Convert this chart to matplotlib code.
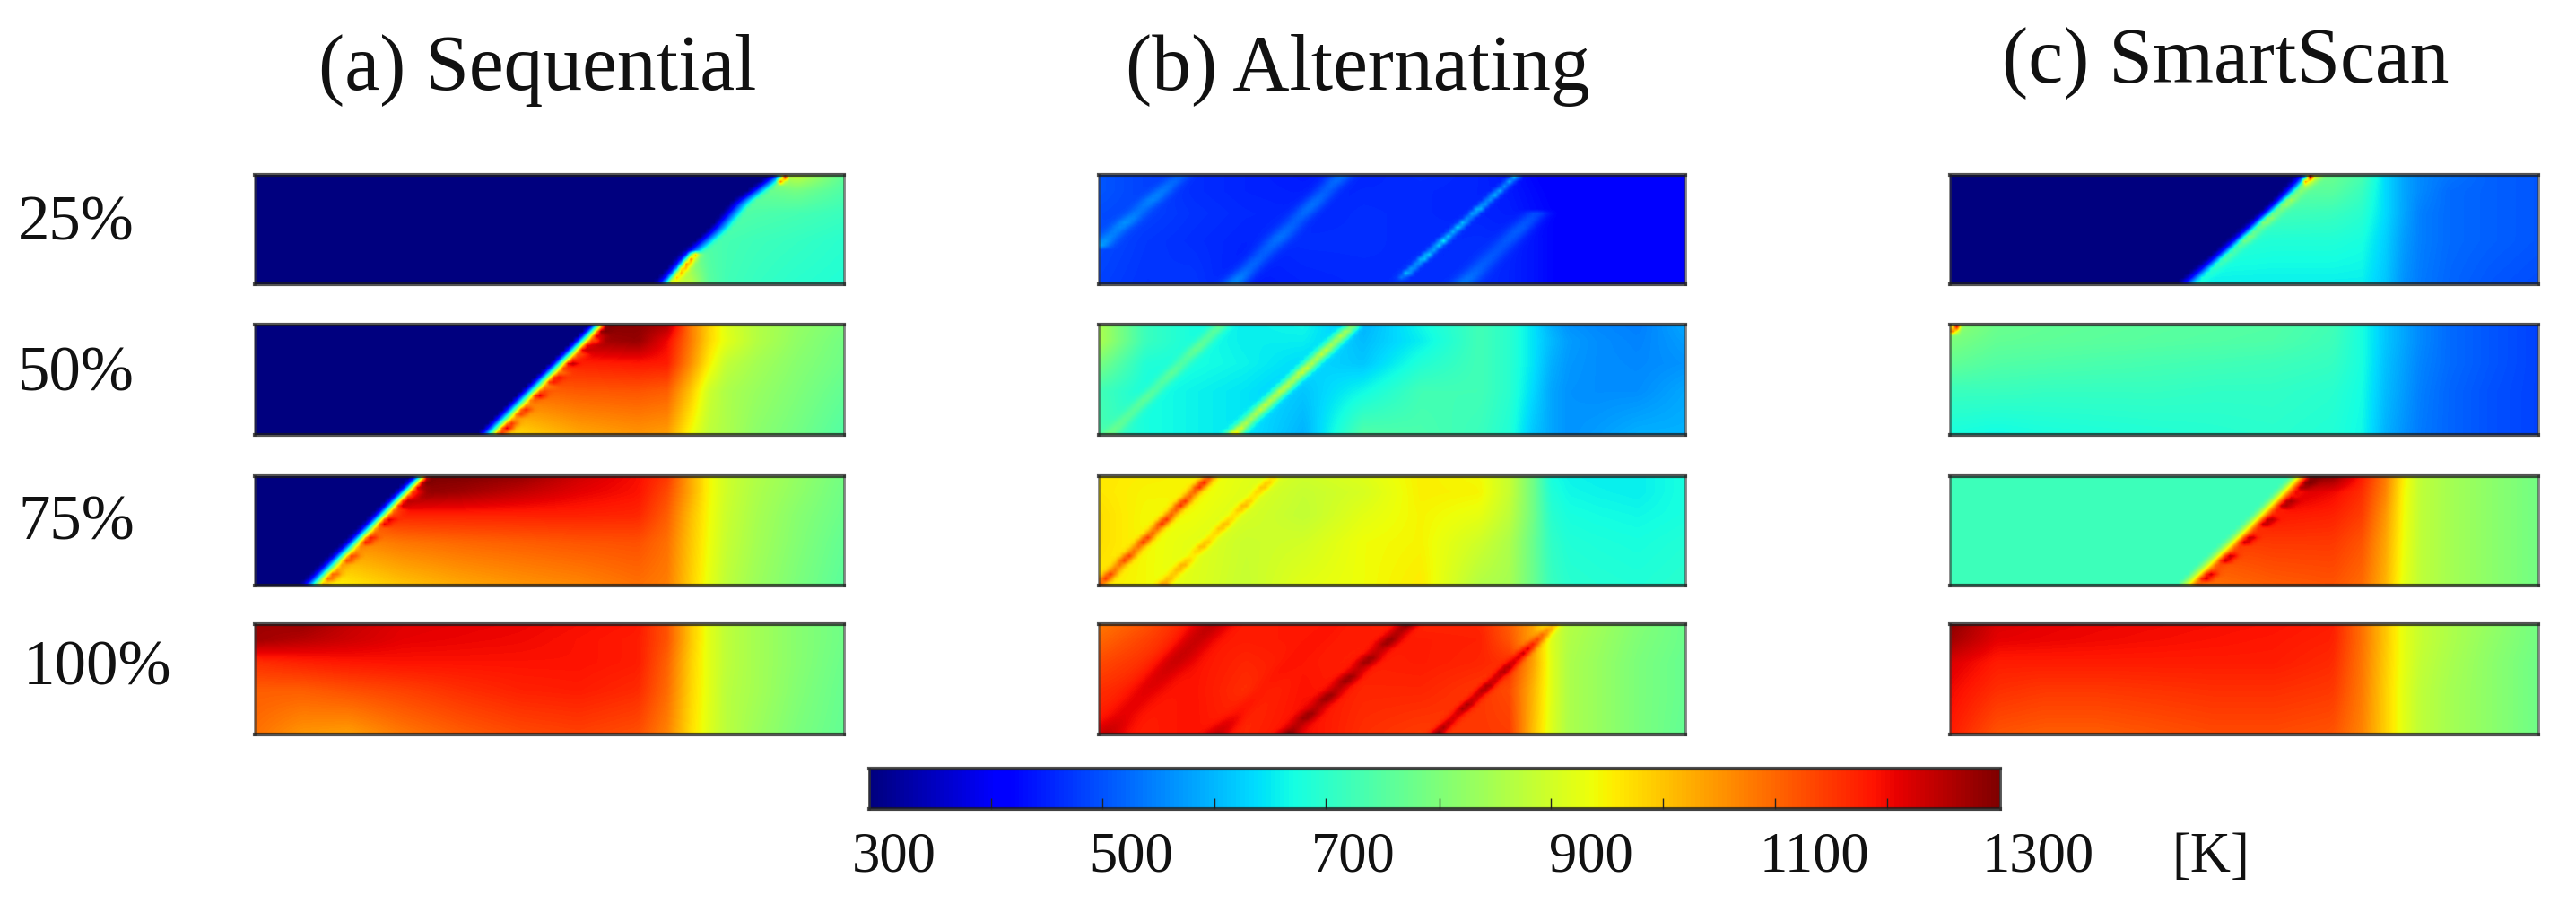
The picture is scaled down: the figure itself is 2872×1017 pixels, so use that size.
import numpy as np
import matplotlib
matplotlib.use("Agg")
import matplotlib.pyplot as plt
from matplotlib.cm import ScalarMappable
from matplotlib.colors import Normalize

W, H = 2872, 1017
plt.rcParams['font.family'] = ['Liberation Serif', 'DejaVu Serif']

titles = ["(a) Sequential", "(b) Alternating", "(c) SmartScan"]
row_labels = ["25%", "50%", "75%", "100%"]
cbar_labels = ["300", "500", "700", "900", "1100", "1300"]
cbar_ticks = [408, 506, 605, 704, 804, 903, 1002, 1101, 1200]
T_MIN, T_MAX = 300, 1300

# Temperature [K] at these fractional positions
X_KNOTS = [0, .08, .16, .25, .35, .45, .55, .65, .70, .74, .77, .80, .85, .92, 1]
Y_KNOTS = [0, .15, .35, .6, 1]

seq25 = [
    [780, 780, 780, 780, 780, 780, 780, 780, 780, 780, 780, 780, 800, 890, 765],
    [770, 770, 770, 770, 770, 770, 770, 770, 770, 770, 770, 770, 770, 790, 745],
    [760, 760, 760, 760, 760, 760, 760, 760, 760, 760, 760, 755, 745, 735, 720],
    [780, 780, 780, 780, 780, 780, 780, 780, 780, 760, 745, 735, 725, 715, 700],
    [900, 900, 900, 900, 900, 900, 900, 900, 900, 880, 760, 730, 715, 700, 690],
]
seq50 = [
    [1300, 1300, 1300, 1300, 1300, 1300, 1300, 1290, 1260, 1080, 990, 920, 870, 830, 800],
    [1260, 1260, 1260, 1260, 1260, 1260, 1260, 1280, 1200, 1080, 985, 925, 870, 825, 790],
    [1170, 1170, 1170, 1170, 1170, 1170, 1175, 1185, 1180, 1060, 960, 885, 850, 815, 785],
    [1090, 1090, 1090, 1090, 1090, 1100, 1115, 1120, 1110, 1000, 900, 860, 835, 805, 770],
    [950, 950, 950, 950, 950, 980, 1030, 1050, 1040, 940, 880, 860, 820, 790, 750],
]
seq75 = [
    [1300, 1300, 1300, 1300, 1300, 1280, 1230, 1195, 1150, 1030, 950, 900, 865, 830, 790],
    [1290, 1290, 1290, 1290, 1270, 1240, 1210, 1190, 1130, 1030, 950, 900, 860, 825, 785],
    [1150, 1150, 1150, 1175, 1175, 1175, 1175, 1170, 1110, 1010, 945, 895, 855, 815, 780],
    [1060, 1060, 1060, 1085, 1100, 1110, 1120, 1125, 1090, 1000, 940, 890, 850, 810, 770],
    [920, 920, 960, 1000, 1030, 1050, 1065, 1090, 1075, 990, 930, 880, 840, 800, 760],
]
seq100 = [
    [1270, 1280, 1240, 1215, 1210, 1205, 1195, 1185, 1120, 1000, 925, 880, 850, 815, 785],
    [1270, 1250, 1230, 1210, 1205, 1200, 1190, 1180, 1120, 1000, 925, 880, 850, 815, 785],
    [1160, 1175, 1185, 1190, 1190, 1190, 1190, 1180, 1105, 990, 925, 880, 850, 815, 780],
    [1110, 1110, 1125, 1140, 1160, 1175, 1180, 1165, 1095, 985, 925, 875, 850, 810, 775],
    [1090, 1050, 1040, 1080, 1110, 1130, 1140, 1125, 1070, 975, 920, 875, 840, 800, 770],
]
alt25 = [
    [510, 490, 470, 460, 450, 460, 470, 460, 445, 430, 420, 415, 415, 415, 415],
    [510, 490, 470, 460, 455, 465, 465, 460, 450, 435, 425, 415, 415, 415, 415],
    [500, 490, 475, 465, 460, 470, 465, 460, 455, 440, 430, 420, 415, 415, 415],
    [500, 480, 470, 460, 470, 470, 465, 470, 460, 445, 430, 420, 415, 415, 415],
    [490, 475, 480, 450, 460, 465, 470, 470, 460, 445, 430, 420, 415, 420, 425],
]
alt50 = [
    [860, 720, 680, 660, 670, 600, 670, 730, 700, 650, 600, 570, 560, 550, 590],
    [860, 720, 680, 660, 660, 610, 660, 730, 700, 650, 610, 580, 565, 555, 580],
    [800, 690, 680, 665, 640, 620, 690, 730, 700, 650, 600, 575, 565, 560, 570],
    [730, 680, 665, 650, 620, 670, 730, 730, 700, 640, 590, 570, 565, 565, 590],
    [740, 680, 665, 650, 600, 750, 740, 720, 690, 620, 590, 570, 580, 600, 600],
]
alt75 = [
    [965, 955, 950, 925, 900, 920, 955, 945, 890, 790, 680, 665, 660, 660, 680],
    [965, 950, 950, 920, 890, 910, 955, 950, 890, 790, 690, 670, 665, 660, 680],
    [975, 945, 940, 910, 885, 925, 950, 930, 880, 790, 700, 680, 675, 670, 680],
    [975, 945, 925, 895, 905, 940, 950, 900, 860, 780, 710, 690, 685, 680, 690],
    [960, 945, 920, 890, 925, 940, 960, 865, 850, 780, 720, 700, 695, 690, 700],
]
alt100 = [
    [1080, 1120, 1185, 1180, 1185, 1180, 1170, 1170, 1110, 1040, 920, 870, 845, 810, 780],
    [1100, 1140, 1185, 1180, 1185, 1180, 1180, 1175, 1120, 1035, 920, 865, 840, 805, 780],
    [1130, 1160, 1190, 1170, 1185, 1175, 1180, 1170, 1155, 1040, 925, 860, 835, 800, 775],
    [1160, 1180, 1190, 1160, 1190, 1170, 1170, 1150, 1130, 1020, 925, 860, 835, 800, 775],
    [1190, 1180, 1190, 1170, 1195, 1160, 1145, 1150, 1145, 1010, 920, 860, 835, 800, 770],
]
smart25 = [
    [770, 770, 770, 770, 770, 770, 770, 780, 740, 640, 590, 560, 540, 520, 510],
    [760, 760, 760, 760, 760, 760, 760, 760, 720, 640, 590, 560, 530, 520, 510],
    [730, 730, 730, 730, 730, 730, 730, 720, 700, 640, 590, 550, 530, 520, 510],
    [700, 700, 700, 700, 700, 700, 690, 690, 680, 630, 580, 550, 530, 520, 510],
    [660, 660, 660, 660, 660, 660, 660, 660, 660, 620, 570, 545, 525, 510, 500],
]
smart50 = [
    [830, 780, 770, 765, 760, 755, 750, 730, 680, 620, 590, 560, 530, 510, 490],
    [800, 770, 765, 760, 755, 750, 745, 725, 680, 620, 590, 560, 530, 510, 490],
    [770, 750, 745, 740, 735, 730, 725, 715, 680, 615, 585, 555, 530, 510, 490],
    [720, 720, 715, 715, 715, 710, 710, 700, 675, 610, 580, 550, 525, 505, 490],
    [680, 670, 680, 685, 690, 695, 700, 690, 670, 600, 570, 545, 525, 505, 490],
]
smart75 = [
    [1290, 1290, 1290, 1290, 1290, 1290, 1290, 1290, 1180, 1080, 960, 880, 850, 820, 790],
    [1240, 1240, 1240, 1240, 1240, 1240, 1240, 1200, 1160, 1070, 950, 880, 850, 820, 790],
    [1200, 1200, 1200, 1200, 1200, 1200, 1185, 1175, 1145, 1050, 945, 880, 850, 820, 790],
    [1140, 1140, 1140, 1140, 1140, 1140, 1150, 1150, 1120, 1035, 940, 880, 850, 820, 790],
    [1090, 1090, 1090, 1090, 1090, 1090, 1110, 1120, 1095, 1020, 930, 880, 850, 820, 790],
]
smart100 = [
    [1290, 1220, 1210, 1205, 1200, 1195, 1190, 1180, 1090, 1000, 930, 890, 860, 830, 790],
    [1270, 1210, 1205, 1200, 1195, 1190, 1185, 1175, 1090, 1000, 930, 890, 860, 825, 790],
    [1220, 1180, 1180, 1180, 1180, 1180, 1180, 1165, 1085, 995, 930, 885, 855, 820, 785],
    [1200, 1160, 1150, 1150, 1155, 1160, 1160, 1150, 1080, 990, 925, 880, 850, 820, 785],
    [1180, 1120, 1110, 1110, 1120, 1130, 1130, 1120, 1070, 990, 925, 880, 850, 820, 785],
]

# Heat-front x position (top to bottom), and the temperature ahead of it
seq25_front = [.895, .83, .79, .737, .698]
seq50_front = [.589, .542, .493, .445, .397]
seq75_front = [.288, .240, .193, .145, .097]
smart25_front = [.609, .565, .513, .46, .404]
smart75_front = [.60, .553, .505, .455, .404]
AHEAD_COLD = 300
AHEAD_SMART75 = 725

# Streaks: x bottom, y bottom, x top, y top, half-width, temperatures along it (bottom to top)
seq25_streaks = [
    (.707, 1.0, .748, .72, .008, [950, 1000, 1060, 1090, 1000]),
    (.890, .1, .900, .0, .005, [1000, 1280]),
]
seq50_streaks = [
    (.416, 1.0, .604, .0, .011, [1100, 1240, 1050, 1200, 1040, 1220, 1060, 1240, 1080, 1250, 1100, 1270, 1130, 1300, 1300]),
]
seq75_streaks = [
    (.116, 1.0, .302, .0, .011, [950, 1150, 1000, 1180, 1020, 1230, 1060, 1260, 1100, 1280, 1150, 1300, 1300]),
]
alt25_streaks = [
    (.511, .97, .707, .03, .008, [480, 620, 570, 670, 590, 670, 590, 650, 570, 640, 570, 620, 560, 610]),
    (.229, 1.0, .415, .0, .020, [570, 530, 520, 540, 520, 540, 520, 540]),
    (.000, .65, .140, .0, .018, [590, 550, 570, 540, 560, 540, 520]),
    (.620, 1.0, .747, .34, .020, [550, 520, 510, 520, 500]),
]
alt50_streaks = [
    (.229, 1.0, .435, .0, .012, [1000, 880, 850, 900, 870, 900, 860, 920, 860, 900, 850, 880, 800]),
    (.017, 1.0, .209, .0, .014, [790, 770, 760, 770, 750, 770, 750, 780, 760, 770]),
]
alt75_streaks = [
    (.000, 1.0, .190, .0, .011, [1080, 1170, 1060, 1170, 1070, 1170, 1080, 1190, 1090, 1190, 1080, 1200, 1100]),
    (.108, 1.0, .300, .0, .010, [1060, 1000, 1040, 960, 1030, 970, 1030, 970, 1030, 970, 1020, 960]),
]
alt100_streaks = [
    (.322, 1.0, .528, .0, .016, [1300, 1240, 1290, 1240, 1290, 1240, 1290, 1230, 1290, 1230, 1290, 1250, 1300]),
    (.575, 1.0, .778, .0, .011, [1290, 1250, 1220, 1280, 1230, 1280, 1230, 1270, 1220, 1240, 1160, 1080, 1000]),
    (.010, 1.0, .195, .0, .030, [1240, 1210, 1210, 1220, 1235, 1235, 1245]),
    (.200, 1.0, .400, .0, .020, [1240, 1190, 1180, 1190, 1190, 1190]),
]
smart25_streaks = [
    (.420, 1.0, .625, .0, .011, [680, 690, 720, 760, 740, 820, 770, 850, 790, 870, 800, 880, 900]),
    (.603, .08, .615, .0, .005, [1000, 1290]),
]
smart50_streaks = [
    (.003, .10, .012, .0, .006, [1000, 1290]),
]
smart75_streaks = [
    (.422, 1.0, .625, .0, .011, [1050, 1280, 1080, 1290, 1100, 1280, 1120, 1290, 1140, 1300, 1160, 1300, 1300]),
]
no_streaks = []

# Position of each column and row of panels, in reference pixels
col_left = [284, 1225, 2174]
col_right = [941, 1879, 2830]
row_top = [195, 362, 531, 696]
row_bottom = [317, 485, 653, 819]
NX, NY = 125, 24
RAMP_WIDTH, RAMP_SHIFT = .036, .016

panels = [
    [(seq25, seq25_front, AHEAD_COLD, seq25_streaks),
     (seq50, seq50_front, AHEAD_COLD, seq50_streaks),
     (seq75, seq75_front, AHEAD_COLD, seq75_streaks),
     (seq100, None, None, no_streaks)],
    [(alt25, None, None, alt25_streaks),
     (alt50, None, None, alt50_streaks),
     (alt75, None, None, alt75_streaks),
     (alt100, None, None, alt100_streaks)],
    [(smart25, smart25_front, AHEAD_COLD, smart25_streaks),
     (smart50, None, None, smart50_streaks),
     (smart75, smart75_front, AHEAD_SMART75, smart75_streaks),
     (smart100, None, None, no_streaks)],
]


def build(grid, front, ahead, streaks):
    xs = (np.arange(NX) + .5) / NX
    ys = (np.arange(NY) + .5) / NY
    by_row = np.array([np.interp(xs, X_KNOTS, r) for r in grid])
    T = np.array([np.interp(ys, Y_KNOTS, by_row[:, j]) for j in range(NX)]).T
    X, Y = np.meshgrid(xs, ys)
    if front is not None:
        fx = np.interp(Y, np.linspace(0, 1, len(front)), front) + RAMP_SHIFT
        ramp = np.clip(1 - (fx - X) / RAMP_WIDTH, 0, 1)
        T = ahead + (T - ahead) * ramp
    for xb, yb, xt, yt, w, vals in streaks:
        s = (Y - yb) / (yt - yb)
        line = xb + s * (xt - xb)
        weight = np.exp(-((X - line) / w) ** 2) * ((s >= -.02) & (s <= 1.02))
        v = np.interp(s, np.linspace(0, 1, len(vals)), vals)
        T = T + weight * (v - T)
    return T


def frac(x, y):
    return x / W, 1 - y / H


def style_frame(ax):
    for side, sp in ax.spines.items():
        sp.set_visible(True)
        if side in ('top', 'bottom'):
            sp.set_linewidth(3.0)
            sp.set_color('#1a1a1a')
            sp.set_alpha(.75)
        else:
            sp.set_linewidth(2.0)
            sp.set_color('#333333')
            sp.set_alpha(.6)


fig = plt.figure(figsize=(W / 100, H / 100), dpi=100, facecolor='white')
norm = Normalize(T_MIN, T_MAX)

for c, col in enumerate(panels):
    for r, (grid, front, ahead, streaks) in enumerate(col):
        x0, y1 = frac(col_left[c], row_bottom[r])
        x1, y0 = frac(col_right[c], row_top[r])
        ax = fig.add_axes([x0, y1, x1 - x0, y0 - y1])
        ax.imshow(build(grid, front, ahead, streaks), cmap='jet', norm=norm, aspect='auto',
                  interpolation='bilinear', extent=[0, 1, 1, 0])
        ax.set_xticks([])
        ax.set_yticks([])
        style_frame(ax)

# Colour bar
x0, y1 = frac(969, 902)
x1, y0 = frac(2230, 857)
cax = fig.add_axes([x0, y1, x1 - x0, y0 - y1])
cb = fig.colorbar(ScalarMappable(norm=norm, cmap='jet'), cax=cax, orientation='horizontal')
cb.set_ticks(cbar_ticks)
cb.ax.tick_params(direction='in', length=9, width=1.0, color='#222222', labelbottom=False)
cb.ax.xaxis.set_tick_params(which='minor', length=0)
cb.outline.set_visible(False)
style_frame(cax)

# Text
title_x = [599, 1514, 2481]
title_base = [100, 100, 92]
for t, x, y in zip(titles, title_x, title_base):
    fig.text(*frac(x, y), t, fontsize=63, ha='center', va='baseline', color='#111111')

row_label_x = [20, 20, 20, 26]
row_label_base = [267, 436, 601, 764]
for t, x, y in zip(row_labels, row_label_x, row_label_base):
    fig.text(*frac(x, y), t, fontsize=51, ha='left', va='baseline', color='#111111')

cbar_label_x = [997, 1261, 1509, 1774, 2023, 2272]
for t, x in zip(cbar_labels, cbar_label_x):
    fig.text(*frac(x, 972), t, fontsize=45, ha='center', va='baseline', color='#111111')
fig.text(*frac(2465, 972), "[K]", fontsize=45, ha='center', va='baseline', color='#111111')

fig.savefig("out.png", dpi=100, facecolor='white')
